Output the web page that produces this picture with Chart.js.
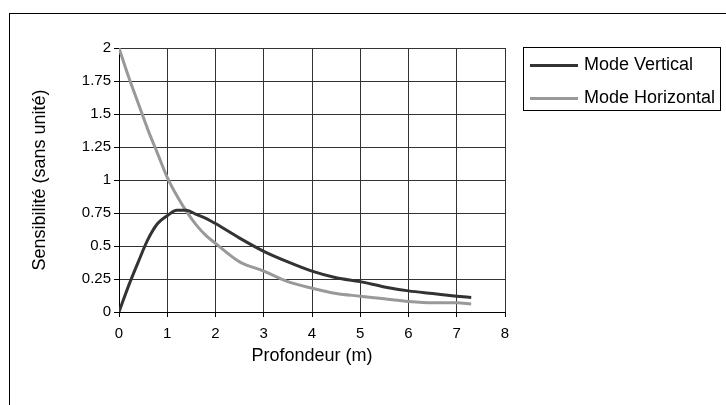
<!DOCTYPE html>
<html>
<head>
<meta charset="utf-8">
<script src="https://cdn.jsdelivr.net/npm/chart.js@4/dist/chart.umd.min.js"></script>
<style type="text/css">
    html, body { margin: 0; padding: 0; background: #fff; }
    #wrap { position: relative; width: 726px; height: 405px; overflow: hidden; }
    #legendBox {
        position: absolute;
        left: 523px; top: 47px;
        width: 198px; height: 64px;
        border: 1px solid #000;
        box-sizing: border-box;
        font-family: "Liberation Sans", Arial, sans-serif;
        font-size: 18px;
        color: #000;
    }
    #legendBox > div { position: absolute; left: 6px; height: 20px; line-height: 20px; white-space: nowrap; }
    #legendBox span.sample { display: inline-block; width: 48px; height: 3px; vertical-align: middle; margin-right: 6px; }
</style>
</head>
<body>
<div id="wrap">
    <canvas id="chart" width="726" height="405"></canvas>
    <div id="legendBox">
        <div style="top: 6px;"><span class="sample" style="background:#333;"></span>Mode Vertical</div>
        <div style="top: 39px;"><span class="sample" style="background:#999;"></span>Mode Horizontal</div>
    </div>
</div>

<script type="text/javascript">
// profondeur (m)
const depths = [0, 0.2, 0.4, 0.6, 0.8, 1.0, 1.2, 1.4, 1.6, 1.8, 2.0, 2.5, 3.0, 3.5, 4.0, 4.5, 5.0, 5.5, 6.0, 6.5, 7.0, 7.3];
const modeVertical = [0, 0.2, 0.38, 0.55, 0.67, 0.73, 0.77, 0.77, 0.74, 0.71, 0.67, 0.56, 0.46, 0.38, 0.31, 0.26, 0.23, 0.19, 0.16, 0.14, 0.12, 0.11];
const modeHorizontal = [2, 1.78, 1.58, 1.38, 1.2, 1.02, 0.88, 0.76, 0.66, 0.58, 0.52, 0.38, 0.31, 0.23, 0.18, 0.14, 0.12, 0.1, 0.08, 0.07, 0.07, 0.06];
const seriesNames = ['Mode Vertical', 'Mode Horizontal'];
const xTitle = 'Profondeur (m)';
const yTitle = 'Sensibilité (sans unité)';

const font = '"Liberation Sans", Arial, sans-serif';

function points(values) {
    return depths.map((d, i) => ({ x: d, y: values[i] }));
}

// cadre extérieur (seulement haut et gauche visibles)
const framePlugin = {
    id: 'frame',
    beforeDraw(chart) {
        const ctx = chart.ctx;
        ctx.save();
        ctx.strokeStyle = '#000';
        ctx.lineWidth = 1;
        ctx.strokeRect(9.5, 13.5, 800, 500);
        ctx.restore();
    }
};

new Chart(document.getElementById('chart'), {
    type: 'line',
    data: {
        datasets: [{
            label: seriesNames[0],
            data: points(modeVertical),
            borderColor: '#333333',
            borderWidth: 3,
            pointRadius: 0,
            cubicInterpolationMode: 'monotone'
        }, {
            label: seriesNames[1],
            data: points(modeHorizontal),
            borderColor: '#999999',
            borderWidth: 3,
            pointRadius: 0,
            cubicInterpolationMode: 'monotone'
        }]
    },
    options: {
        responsive: false,
        animation: false,
        layout: { padding: { left: 29, right: 221, top: 48, bottom: 38 } },
        plugins: { legend: { display: false }, tooltip: { enabled: false } },
        scales: {
            x: {
                type: 'linear',
                min: 0, max: 8,
                ticks: { stepSize: 1, color: '#000', padding: 8, font: { family: font, size: 15 } },
                grid: { color: '#333', tickLength: 5, tickColor: '#000' },
                border: { color: '#000' },
                title: { display: true, text: xTitle, color: '#000', padding: 0, font: { family: font, size: 18 } },
                afterFit(scale) { scale.height = 55; }
            },
            y: {
                min: 0, max: 2,
                ticks: {
                    stepSize: 0.25, color: '#000', padding: 3,
                    font: { family: font, size: 15 },
                    callback: v => String(v)
                },
                grid: { color: '#333', tickLength: 5, tickColor: '#000' },
                border: { color: '#000' },
                title: { display: true, text: yTitle, color: '#000', padding: 0, font: { family: font, size: 18 } },
                afterFit(scale) { scale.width = 90; }
            }
        }
    },
    plugins: [framePlugin]
});
</script>
</body>
</html>
